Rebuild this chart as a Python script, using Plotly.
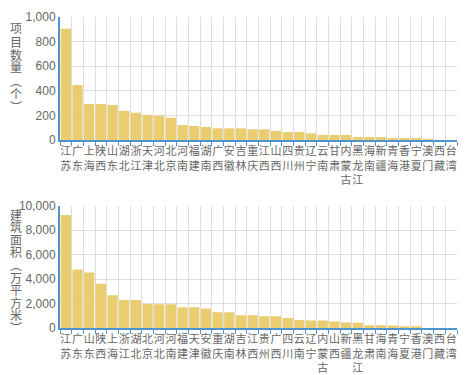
import plotly.graph_objects as go
from plotly.subplots import make_subplots

provinces_count = ["江苏", "广东", "上海", "陕西", "山东", "湖北", "浙江", "天津", "河北", "北京",
                   "河南", "福建", "湖南", "广西", "安徽", "吉林", "重庆", "江西", "山西", "四川",
                   "贵州", "辽宁", "云南", "甘肃", "内蒙古", "黑龙江", "海南", "新疆", "青海", "香港",
                   "宁夏", "澳门", "西藏", "台湾"]
project_counts = [905, 447, 293, 293, 285, 238, 222, 203, 197, 181,
                  122, 114, 106, 95, 95, 95, 87, 87, 73, 65,
                  65, 54, 41, 41, 41, 24, 24, 24, 16, 16,
                  16, 3, 0, 0]

provinces_area = ["江苏", "广东", "山东", "陕西", "上海", "浙江", "湖北", "北京", "河北", "河南",
                  "福建", "天津", "安徽", "重庆", "湖南", "吉林", "江西", "贵州", "广西", "四川",
                  "云南", "辽宁", "内蒙古", "山西", "新疆", "黑龙江", "甘肃", "海南", "青海", "宁夏",
                  "香港", "澳门", "西藏", "台湾"]
floor_area = [9230, 4790, 4540, 3610, 2680, 2295, 2295, 1967, 1950, 1950,
              1697, 1697, 1590, 1287, 1287, 1041, 1041, 959, 959, 820,
              656, 606, 606, 525, 440, 420, 221, 221, 195, 139,
              139, 0, 0, 0]

title_top = "项目数量（个）"
title_bottom = "建筑面积（万平方米）"


def stack(s):
    return "<br>".join(s)


bar_color = "#EACD6E"
axis_blue = "#4F94CD"
grid_col = "#DDDDDD"
text_col = "#666666"
fontfam = "Liberation Sans, Noto Sans CJK SC, sans-serif"
cjkfam = "Noto Sans CJK SC, sans-serif"

W, H = 469, 375
ML, MR, MT, MB = 60, 12, 17, 47
PW, PH = W - ML - MR, H - MT - MB

xc = [stack(p) for p in provinces_count]
xa = [stack(p) for p in provinces_area]

fig = make_subplots(rows=2, cols=1, vertical_spacing=0.0)
fig.add_trace(go.Bar(x=xc, y=project_counts,
                     marker=dict(color=bar_color, line=dict(width=0))), row=1, col=1)
fig.add_trace(go.Bar(x=xa, y=floor_area,
                     marker=dict(color=bar_color, line=dict(width=0))), row=2, col=1)

xcommon = dict(showline=True, linecolor=axis_blue, linewidth=2, ticks="outside",
               tickcolor=axis_blue, ticklen=4, tickwidth=1, tickson="boundaries",
               showgrid=True, gridcolor=grid_col, gridwidth=1,
               tickfont=dict(size=11, color=text_col, family=fontfam),
               tickangle=0, mirror=False, zeroline=False, automargin=False)
ycommon = dict(showline=True, linecolor=axis_blue, linewidth=2, ticks="",
               showgrid=True, gridcolor=grid_col, gridwidth=1, tickformat=",d",
               tickfont=dict(size=12, color=text_col, family=fontfam),
               zeroline=False, automargin=False)

fig.update_xaxes(**xcommon)
fig.update_yaxes(**ycommon)
fig.update_xaxes(domain=[0, 1])
fig.update_xaxes(tickmode="array", tickvals=xc, ticktext=xc, row=1, col=1)
fig.update_xaxes(tickmode="array", tickvals=xa, ticktext=xa, row=2, col=1)


def py(p):
    return (H - MB - p) / PH


fig.update_yaxes(domain=[py(140), 1.0], range=[0, 1000], dtick=200, row=1, col=1)
fig.update_yaxes(domain=[0.0, py(205.7)], range=[0, 10000], dtick=2000, row=2, col=1)


def add_vtitle(text, y0, step):
    text = text.replace("（", "︵").replace("）", "︶")
    for i, ch in enumerate(text):
        fig.add_annotation(text=ch, xref="paper", yref="paper",
                           x=(16 - ML) / PW, y=py(y0 + i * step),
                           xanchor="center", yanchor="middle", showarrow=False,
                           font=dict(size=12, color=text_col, family=cjkfam))


add_vtitle(title_top, 28, 13.0)
add_vtitle(title_bottom, 214, 12.6)

fig.update_layout(width=W, height=H, margin=dict(l=ML, r=MR, t=MT, b=MB, autoexpand=False),
                  plot_bgcolor="white", paper_bgcolor="white", showlegend=False,
                  bargap=0.12, font=dict(family=fontfam, color=text_col))

fig.write_html("out.html", config={"displayModeBar": False},
               post_script="document.body.style.margin='0';document.body.style.overflow='hidden';")
